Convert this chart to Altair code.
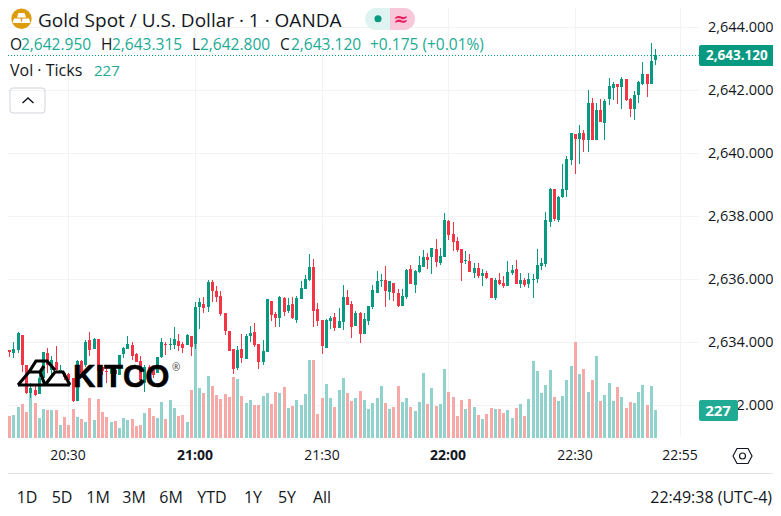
import altair as alt
import pandas as pd

opens = [2633.60,2633.44,2633.76,2633.66,2633.76,2634.23,2633.28,2632.38,2632.49,2632.36,
2632.86,2633.66,2633.12,2633.38,2633.08,2633.02,2633.00,2632.86,2632.14,2633.41,
2633.28,2634.07,2633.79,2634.11,2633.23,2633.10,2633.00,2633.12,2632.96,2633.63,
2633.79,2633.92,2633.63,2633.41,2632.70,2633.21,2633.12,2633.03,2633.53,2633.95,
2633.91,2633.92,2634.04,2633.95,2633.92,2634.20,2633.95,2635.12,2635.22,2635.12,
2635.92,2635.63,2635.47,2634.93,2634.36,2633.79,2633.19,2633.79,2633.47,2634.20,
2634.33,2633.95,2633.38,2633.69,2635.31,2634.90,2634.77,2635.41,2634.99,2635.22,
2634.71,2635.38,2635.69,2635.98,2636.39,2635.06,2634.71,2633.82,2634.68,2634.80,
2634.46,2634.65,2635.44,2635.22,2634.52,2634.93,2634.26,2634.68,2635.12,2635.57,
2635.94,2635.98,2635.60,2635.88,2635.57,2635.15,2635.44,2636.33,2635.82,2636.23,
2636.39,2636.71,2636.71,2636.96,2636.52,2636.71,2637.85,2637.44,2637.22,2636.96,
2636.57,2636.58,2636.20,2636.36,2636.11,2636.20,2636.04,2635.41,2635.98,2635.88,
2635.79,2636.20,2636.33,2635.85,2635.98,2635.85,2635.97,2636.01,2636.42,2636.49,
2637.82,2638.86,2637.88,2638.61,2638.84,2639.79,2640.61,2640.46,2640.65,2640.42,
2641.60,2640.42,2641.38,2640.96,2641.72,2642.07,2642.20,2642.11,2642.36,2641.72,
2641.41,2641.85,2642.20,2642.52,2642.20,2642.95]
highs = [2633.63,2633.81,2633.76,2634.01,2634.33,2634.23,2633.28,2632.70,2632.65,2632.96,
2633.69,2633.81,2633.55,2633.88,2633.28,2633.07,2633.02,2632.86,2633.44,2633.44,
2634.07,2634.33,2634.14,2634.11,2633.28,2633.25,2633.18,2633.23,2633.60,2633.86,
2634.20,2634.01,2633.65,2633.55,2633.28,2633.28,2633.23,2633.53,2634.14,2634.01,
2634.14,2634.49,2634.26,2634.01,2634.26,2634.20,2635.28,2635.40,2635.43,2635.98,
2635.98,2635.79,2635.63,2634.93,2634.36,2633.79,2633.88,2634.26,2634.26,2634.52,
2634.61,2633.95,2634.07,2635.38,2635.31,2634.96,2635.47,2635.44,2635.41,2635.44,
2635.47,2635.95,2636.14,2636.80,2636.65,2635.25,2634.71,2634.74,2634.84,2634.93,
2635.09,2635.82,2635.66,2635.31,2634.99,2634.96,2634.93,2635.15,2635.82,2636.26,
2636.17,2636.42,2635.95,2635.88,2635.69,2635.69,2636.33,2636.45,2636.30,2636.74,
2636.93,2636.84,2636.99,2637.28,2636.99,2638.11,2637.88,2637.82,2637.34,2636.96,
2636.90,2636.80,2636.52,2636.52,2636.33,2636.26,2636.04,2636.04,2636.20,2636.11,
2636.58,2636.45,2636.61,2636.20,2636.04,2636.20,2636.17,2636.96,2636.68,2638.14,
2638.90,2638.86,2638.65,2639.66,2639.92,2640.65,2640.61,2640.90,2640.74,2642.01,
2641.76,2641.60,2641.72,2641.72,2642.39,2642.26,2642.20,2642.42,2642.36,2641.76,
2641.98,2642.30,2642.90,2642.52,2643.50,2643.315]
lows = [2633.47,2633.44,2633.52,2633.50,2633.66,2633.07,2632.36,2632.23,2632.28,2632.36,
2632.80,2633.02,2632.96,2633.02,2633.02,2632.80,2632.75,2632.11,2632.14,2632.91,
2633.23,2633.57,2633.79,2632.86,2632.96,2632.70,2632.59,2632.91,2632.96,2633.50,
2633.79,2633.44,2633.38,2632.74,2632.43,2632.86,2632.86,2633.03,2633.50,2633.60,
2633.76,2633.79,2633.73,2633.65,2633.92,2633.57,2633.79,2634.42,2634.92,2634.96,
2635.28,2635.28,2634.82,2634.23,2633.73,2633.00,2633.12,2633.34,2633.47,2634.01,
2633.85,2633.15,2633.28,2633.69,2634.68,2634.49,2634.49,2634.84,2634.93,2634.74,
2634.61,2635.38,2635.69,2635.95,2634.49,2634.52,2633.63,2633.82,2634.42,2634.36,
2634.46,2634.39,2635.19,2634.14,2634.52,2633.98,2634.26,2634.55,2635.06,2635.57,
2635.76,2635.12,2635.34,2635.31,2635.12,2635.15,2635.38,2635.85,2635.57,2636.20,
2636.39,2636.33,2636.17,2636.39,2636.45,2636.71,2637.25,2636.90,2636.87,2635.95,
2636.49,2636.23,2636.04,2636.04,2635.79,2636.01,2635.41,2635.34,2635.82,2635.72,
2635.79,2636.14,2635.85,2635.72,2635.76,2635.72,2635.41,2635.88,2636.30,2636.39,
2637.66,2637.85,2637.82,2638.58,2638.61,2639.63,2639.34,2639.66,2640.04,2640.04,
2640.42,2640.42,2640.99,2640.42,2641.53,2641.69,2641.57,2641.41,2641.66,2641.15,
2641.06,2641.60,2642.17,2641.79,2642.20,2642.80]
closes = [2633.47,2633.73,2633.69,2633.79,2634.30,2633.28,2632.38,2632.54,2632.33,2632.86,
2633.69,2633.28,2633.44,2633.12,2633.12,2632.89,2632.80,2632.14,2633.41,2633.02,
2634.01,2633.76,2634.11,2633.09,2633.09,2633.06,2633.18,2633.00,2633.60,2633.82,
2633.95,2633.57,2633.38,2632.80,2633.23,2632.96,2632.96,2633.53,2634.01,2633.91,
2633.95,2634.11,2633.88,2633.82,2634.23,2633.85,2635.12,2635.28,2635.09,2635.92,
2635.63,2635.44,2634.90,2634.36,2633.73,2633.15,2633.76,2633.50,2634.20,2634.30,
2633.92,2633.38,2633.73,2635.38,2634.87,2634.77,2635.44,2634.96,2635.19,2634.77,
2635.41,2635.72,2636.01,2636.39,2634.99,2634.68,2633.88,2634.71,2634.77,2634.46,
2634.68,2635.44,2635.19,2634.49,2634.93,2634.26,2634.74,2635.15,2635.66,2635.95,
2635.98,2635.63,2635.95,2635.57,2635.15,2635.47,2636.30,2635.85,2636.26,2636.45,
2636.71,2636.61,2636.99,2636.55,2636.74,2637.88,2637.41,2637.18,2636.93,2636.52,
2636.61,2636.23,2636.36,2636.11,2636.20,2636.04,2635.41,2635.98,2635.85,2635.79,
2636.23,2636.30,2635.85,2635.98,2635.82,2636.01,2636.01,2636.45,2636.52,2637.88,
2638.86,2637.92,2638.62,2638.86,2639.82,2640.65,2640.46,2640.65,2640.42,2641.60,
2640.42,2641.38,2640.99,2641.66,2642.14,2642.20,2642.11,2642.36,2641.69,2641.41,
2641.85,2642.26,2642.52,2642.20,2642.93,2643.12]
volumes = [211,170,178,186,251,276,211,362,284,162,235,227,227,227,105,170,105,235,170,154,
130,324,146,316,211,170,130,138,81,162,146,154,97,105,203,243,178,162,292,154,
308,243,178,186,130,389,892,405,365,503,422,349,316,357,332,494,478,340,284,308,
267,267,340,365,276,373,365,413,243,259,308,267,357,632,632,195,324,438,324,251,
389,486,365,300,324,381,308,235,284,324,422,284,235,251,422,292,324,251,219,292,
527,276,405,259,276,559,373,332,178,308,235,316,251,186,154,195,243,235,235,203,
227,162,243,276,178,316,624,543,365,430,551,332,300,340,470,584,778,519,559,373,
470,665,300,349,446,300,413,332,243,292,284,373,430,267,422,227]
first_minute = 14  # minutes after 20:00 of the first candle

price_ticks = [2644, 2642, 2640, 2638, 2636, 2634, 2632]
time_ticks = [30, 60, 90, 120, 150, 175]
time_labels = ["20:30", "21:00", "21:30", "22:00", "22:30", "22:55"]
time_bold = [False, True, False, True, False, False]
range_labels = ["1D", "5D", "1M", "3M", "6M", "YTD", "1Y", "5Y", "All"]
range_x = [27, 62, 98, 134, 171, 212, 253, 287, 322]
last_price = 2643.12

GREEN, RED = "#089981", "#F23645"
VGREEN, VRED = "#92D2CC", "#F7A9A7"
TEAL = "#22AB94"
INK = "#131722"
GRID = "#F2F3F5"
FONT = "Open Sans"

W, H = 765, 500
X = alt.Scale(domain=[15.72, 196.91], range=[0, W], round=True)
P = alt.Scale(domain=[2628.74, 2644.613], range=[H, 0], round=True)
V = alt.Scale(domain=[0, 2000], range=[430, 183.3], round=True)

df = pd.DataFrame({"m": [first_minute + i for i in range(len(opens))], "o": opens, "h": highs,
                   "l": lows, "c": closes, "v": volumes})
up = df.c >= df.o
df["col"] = [GREEN if u else RED for u in up]
df["vcol"] = [VGREEN if u else VRED for u in up]
ONE = alt.Data(values=[{"a": 1}])


def label(text, x, y, color=INK, size=15.5, weight="normal", align="left", font=FONT, **kw):
    return alt.Chart(ONE).mark_text(text=text, align=align, baseline="alphabetic", font=font,
                                    fontSize=size, fontWeight=weight, color=color, **kw).encode(
        x=alt.value(x - 8), y=alt.value(y - 8))


def shape(path, fill=None, stroke=None, sw=1.0):
    kw = {"filled": fill is not None, "opacity": 1, "size": 4, "shape": path}
    if fill is not None:
        kw["fill"] = fill
        kw["strokeWidth"] = 0
    else:
        kw["stroke"] = stroke
        kw["strokeWidth"] = sw
    return alt.Chart(ONE).mark_point(**kw).encode(x=alt.value(0), y=alt.value(0))


def box(x0, x1, y0, y1, color, radius=0):
    return alt.Chart(ONE).mark_rect(color=color, cornerRadius=radius).encode(
        x=alt.value(x0 - 8), x2=alt.value(x1 - 8), y=alt.value(y0 - 8), y2=alt.value(y1 - 8))


grid_h = alt.Chart(pd.DataFrame({"p": price_ticks})).mark_rule(color=GRID, strokeWidth=1, yOffset=0.5).encode(
    y=alt.Y("p:Q", scale=P, axis=None), x=alt.value(0), x2=alt.value(691))
grid_v = alt.Chart(pd.DataFrame({"t": time_ticks})).mark_rule(color=GRID, strokeWidth=1, xOffset=0.5).encode(
    x=alt.X("t:Q", scale=X, axis=None), y=alt.value(0), y2=alt.value(429))
vol = alt.Chart(df).mark_rule(strokeWidth=3, xOffset=0.5).encode(
    x=alt.X("m:Q", scale=X, axis=None), y=alt.Y("v:Q", scale=V, axis=None), y2=alt.datum(0),
    color=alt.Color("vcol:N", scale=None, legend=None))
wick = alt.Chart(df).mark_rule(strokeWidth=1, xOffset=0.5).encode(
    x=alt.X("m:Q", scale=X, axis=None), y=alt.Y("h:Q", scale=P, axis=None), y2="l:Q",
    color=alt.Color("col:N", scale=None, legend=None))
body = alt.Chart(df).mark_rule(strokeWidth=3, xOffset=0.5).encode(
    x=alt.X("m:Q", scale=X, axis=None), y=alt.Y("o:Q", scale=P, axis=None), y2="c:Q",
    color=alt.Color("col:N", scale=None, legend=None))
last_line = alt.Chart(pd.DataFrame({"p": [last_price]})).mark_rule(
    color=GREEN, strokeWidth=1, strokeDash=[1, 2], yOffset=0.5).encode(
    y=alt.Y("p:Q", scale=P, axis=None), x=alt.value(0), x2=alt.value(691))

price_labels = alt.Chart(pd.DataFrame({"p": price_ticks})).mark_text(
    align="left", baseline="middle", font=FONT, fontSize=14.5, color=INK, yOffset=0.5).encode(
    y=alt.Y("p:Q", scale=P, axis=None), x=alt.value(700), text=alt.Text("p:Q", format=",.3f"))
time_df = pd.DataFrame({"t": time_ticks, "s": time_labels, "b": time_bold})
time_text = [alt.Chart(time_df[time_df.b == flag]).mark_text(
    align="center", baseline="alphabetic", font=FONT, fontSize=14, color=INK,
    fontWeight="bold" if flag else "normal").encode(
    x=alt.X("t:Q", scale=X, axis=None), y=alt.value(452), text="s:N") for flag in (False, True)]

separator = box(0, 781, 473, 474, "#E0E3EB")

logo_paths = ("M10 377 L62 377 M10 377 L21 364 L32 364 L37 377 M21 364 L28 353 L39 353 L47 362 "
              "M32 364 L36 358 M37 377 L47 364 L55 364 L62 377")
layers = [
    grid_h, grid_v, vol, wick, body, last_line,
    # logo
    shape(logo_paths, stroke="#000000", sw=3.2),
    label("KITCO", 73, 387, "#000000", 31, "bold", font="Liberation Sans", stroke="#000000", strokeWidth=0.6),
    label("®", 172, 371, "#444444", 10),
    # header
    alt.Chart(ONE).mark_circle(size=415, opacity=1, color="#DC9C0E").encode(x=alt.value(13.5), y=alt.value(10.7)),
    shape("M10.5 5 L16.5 5 L18 9.5 L9 9.5 Z M6 10.5 L12.5 10.5 L13.5 15 L4.5 15 Z M14.5 10.5 L21 10.5 L22.5 15 L13.5 15 Z", fill="#FFFFFF"),
    label("Gold Spot / U.S. Dollar · 1 · OANDA", 38, 27, INK, 19),
    shape("M382 0 L368 0 A11 11 0 0 0 368 22 L382 22 Z", fill="#DFF3F1"),
    shape("M382 0 L396 0 A11 11 0 0 1 396 22 L382 22 Z", fill="#F9C7DA"),
    alt.Chart(ONE).mark_circle(size=50, opacity=1, color=GREEN).encode(x=alt.value(370), y=alt.value(10.7)),
    label("≈", 401, 25, "#E91E63", 18, "bold", align="center", font="DejaVu Sans"),
    label("O", 10, 50), label("2,642.950", 21, 50, TEAL),
    label("H", 101, 50), label("2,643.315", 112, 50, TEAL),
    label("L", 192, 50), label("2,642.800", 200, 50, TEAL),
    label("C", 280, 50), label("2,643.120", 291, 50, TEAL),
    label("+0.175 (+0.01%)", 370, 50, TEAL),
    label("Vol · Ticks", 10, 76, size=16), label("227", 94, 76, TEAL, 15),
    shape("M5 80 L34 80 Q37 80 37 83 L37 102 Q37 105 34 105 L5 105 Q2 105 2 102 L2 83 Q2 80 5 80 Z",
          stroke="#D1D4DC", sw=1),
    shape("M14.5 95 L20 90 L25.5 95", stroke=INK, sw=1.5),
    # price scale
    price_labels,
    box(699, 781, 45, 66, GREEN, 2),
    label("2,643.120", 706, 60, "#FFFFFF", 13.5, "bold"),
    box(699, 738, 400, 421, TEAL, 2),
    label("227", 718, 416, "#FFFFFF", 15, "bold", align="center"),
    # time scale and footer
    *time_text,
    shape("M725 448 L729 440.5 L740 440.5 L744 448 L740 455.5 L729 455.5 Z M737.5 448 A3 3 0 1 0 731.5 448 A3 3 0 1 0 737.5 448 Z",
          stroke=INK, sw=1.2),
    separator,
    *[label(s, x, 503, INK, 16, align="center") for s, x in zip(range_labels, range_x)],
    label("22:49:38 (UTC-4)", 772, 503, INK, 16, align="right"),
]

chart = alt.layer(*layers).resolve_scale(y="independent", x="shared").properties(
    width=W, height=H, padding=0, autosize=alt.AutoSizeParams(type="none"), background="#FFFFFF"
).configure_view(stroke=None)

chart.save("out.html", embed_options={"renderer": "svg", "actions": False})
